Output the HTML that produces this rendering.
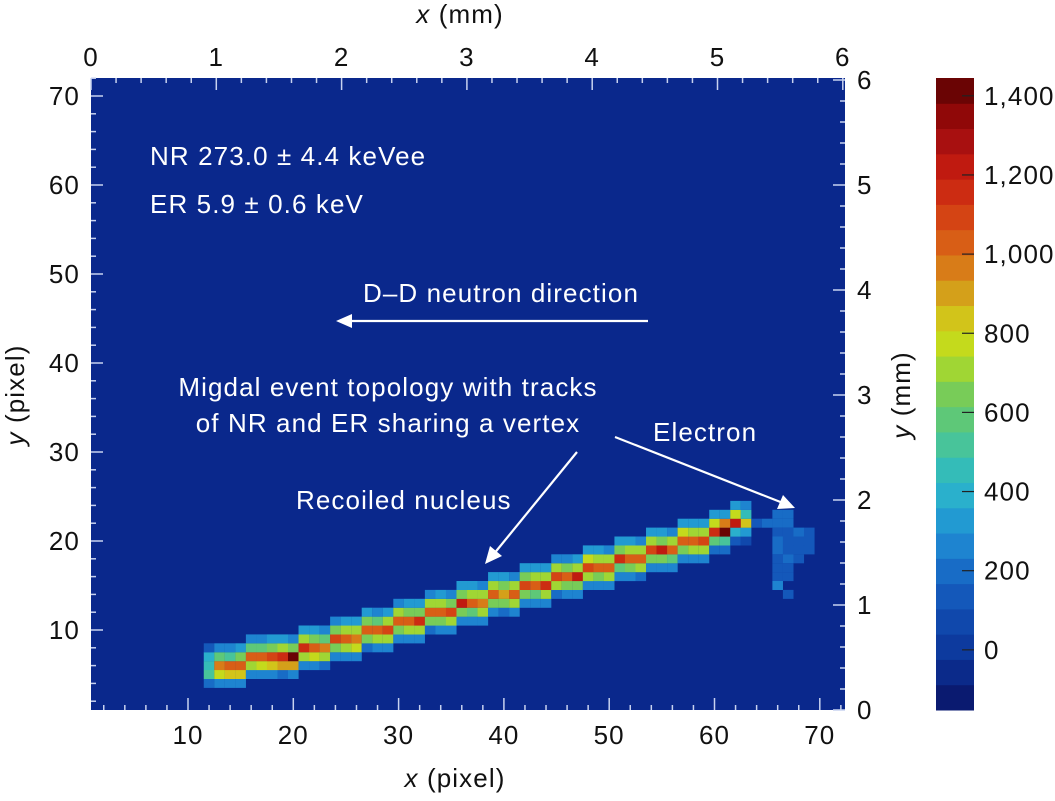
<!DOCTYPE html>
<html><head><meta charset="utf-8"><style>
body{margin:0;background:#fff;}
svg text{font-family:"Liberation Sans",sans-serif;letter-spacing:1.1px;}
</style></head><body>
<svg id="chart" width="1055" height="796" viewBox="0 0 1055 796" xmlns="http://www.w3.org/2000/svg">
<rect x="91" y="78" width="754" height="632" fill="#0a288c"/>
<g id="cells"></g>
<g id="ticks"></g>
<g id="cbar"></g>
<g fill="#fff" font-size="26">
<text x="150" y="165">NR 273.0 ± 4.4 keVee</text>
<text x="150" y="213">ER 5.9 ± 0.6 keV</text>
<text x="501" y="302" text-anchor="middle">D–D neutron direction</text>
<text x="388" y="396" text-anchor="middle">Migdal event topology with tracks</text>
<text x="388" y="432" text-anchor="middle">of NR and ER sharing a vertex</text>
<text x="653" y="441">Electron</text>
<text x="296" y="509">Recoiled nucleus</text>
</g>
<g stroke="#fff" stroke-width="2.2" fill="#fff">
<line x1="648" y1="321" x2="348" y2="321"/>
<polygon points="336,321 352,314 352,328" stroke="none"/>
<line x1="577" y1="452" x2="493" y2="555"/>
<polygon points="485,564 490,546 502,556" stroke="none"/>
<line x1="615" y1="437" x2="783" y2="503"/>
<polygon points="795,508 777,509 783,495" stroke="none"/>
</g>
<g font-size="26" fill="#111">
<text x="460" y="23" text-anchor="middle"><tspan font-style="italic">x</tspan> (mm)</text>
<text x="455" y="787" text-anchor="middle"><tspan font-style="italic">x</tspan> (pixel)</text>
<text transform="translate(24,395) rotate(-90)" text-anchor="middle"><tspan font-style="italic">y</tspan> (pixel)</text>
<text transform="translate(910,395) rotate(-90)" text-anchor="middle"><tspan font-style="italic">y</tspan> (mm)</text>
</g>
<g id="labels" font-size="26" fill="#111"></g>
</svg>
<script>
const NS="http://www.w3.org/2000/svg";
// track data: columns, centre row, values at row offsets -2,-1,0,+1,+2
const trackCols=[12,13,14,15,16,17,18,19,20,21,22,23,24,25,26,27,28,29,30,31,32,33,34,35,36,37,38,39,40,41,42,43,44,45,46,47,48,49,50,51,52,53,54,55,56,57,58,59,60,61,62,63];
const trackRows=[6,6,6,6,7,7,7,7,7,8,8,8,9,9,9,10,10,10,11,11,11,12,12,12,13,13,13,14,14,14,15,15,15,16,16,16,17,17,17,18,18,18,19,19,19,20,20,20,21,21,22,22];
const valDown2=[200,250,260,240,280,260,250,230,260,270,240,230,260,250,240,230,260,250,240,250,260,230,250,270,260,240,250,260,230,250,270,260,250,230,250,260,270,250,240,260,250,230,250,260,240,250,260,250,220,200,150,100];
const valDown=[500,760,860,820,720,780,860,920,880,700,780,720,660,700,780,640,700,740,660,720,680,620,660,740,640,600,700,660,620,680,640,600,700,740,620,660,720,640,680,600,640,720,660,620,580,640,720,680,560,520,420,300];
const valCenter=[480,950,1000,1050,1000,1050,1100,1150,1420,1150,1050,950,1100,1000,950,1050,1000,1100,1050,1000,1150,1050,1000,1100,1200,1050,950,1000,900,1050,1100,1000,1150,1100,1050,1200,1100,1050,1000,1150,1050,1000,1100,1200,1050,1000,1050,1100,1150,1450,1250,850];
const valUp=[400,560,520,620,560,600,640,680,620,720,660,600,640,680,720,640,600,680,720,640,660,720,680,620,660,740,680,720,640,680,660,720,740,680,640,720,760,680,720,640,680,740,720,660,700,760,720,680,800,950,780,480];
const valUp2=[150,260,280,300,280,290,320,300,280,300,320,290,280,300,320,300,290,310,280,300,320,290,300,280,300,320,280,300,310,290,300,320,300,280,290,310,320,300,280,300,320,290,300,310,280,300,320,300,320,340,320,260];
// electron blob cells: columns, rows, values
const eCols=[64,65,66,67,66,67,66,67,68,69,66,67,68,69,66,67,68,69,66,67,68,66,67,66,67,66,67];
const eRows=[22,22,23,23,22,22,21,21,21,21,20,20,20,20,19,19,19,19,18,18,18,17,17,16,16,15,14];
const eVals=[150,180,200,190,190,180,160,150,170,150,180,160,150,140,170,150,160,140,150,180,140,160,150,140,150,260,140];
// colorbar
const cbTicks=[0,200,400,600,800,1000,1200,1400];
const cbColors=["#0a1a70","#0b2a8a","#0d3a9e","#1048ac","#1458ba","#186cc6","#1e84d0","#229ad2","#2ab0cc","#34bcb8","#48c49a","#5ec878","#78cc58","#a0d634","#c4da1c","#d2c41a","#d4a01a","#d87c18","#d85e16","#d44414","#cc2c12","#c01a10","#a81010","#900808","#6a0404"];
const xPix=k=>82.7+10.53*k, yPix=j=>719-8.9*j;
const vMin=-152, vMax=1445;
function color(v){let i=Math.floor((v-vMin)/(vMax-vMin)*cbColors.length);i=Math.max(0,Math.min(cbColors.length-1,i));return cbColors[i];}
const cells=document.getElementById('cells');
function cell(k,j,v){const r=document.createElementNS(NS,'rect');
r.setAttribute('x',xPix(k)-5.3);r.setAttribute('y',yPix(j)-4.5);r.setAttribute('width',10.6);r.setAttribute('height',9);r.setAttribute('fill',color(v));


cells.appendChild(r);}
trackCols.forEach((c,i)=>{const j=trackRows[i];
cell(c,j-2,valDown2[i]);cell(c,j-1,valDown[i]);cell(c,j,valCenter[i]);cell(c,j+1,valUp[i]);cell(c,j+2,valUp2[i]);});
eCols.forEach((c,i)=>cell(c,eRows[i],eVals[i]));
// ticks
const tk=document.getElementById('ticks'),lb=document.getElementById('labels');
function line(x1,y1,x2,y2,name){const l=document.createElementNS(NS,'line');l.setAttribute('x1',x1);l.setAttribute('y1',y1);l.setAttribute('x2',x2);l.setAttribute('y2',y2);l.setAttribute('stroke','#c8d2f0');l.setAttribute('stroke-width','1.5');


tk.appendChild(l);}
function text(x,y,s,anchor,name){const t=document.createElementNS(NS,'text');t.setAttribute('x',x);t.setAttribute('y',y);t.setAttribute('text-anchor',anchor);t.textContent=s;


lb.appendChild(t);}
const pixTicks=[10,20,30,40,50,60,70];
for(let v=2;v<=72;v+=2){const major=v%10===0;const L=major?12:5;
 if(xPix(v)<845){line(xPix(v),710,xPix(v),710-L,'x-tick');}
 if(yPix(v)>78){line(91,yPix(v),91+L,yPix(v),'y-tick');}}
pixTicks.forEach(v=>{text(xPix(v),744,v,'middle','x-tick-label');text(80,yPix(v)+9,v,'end','y-tick-label');});
const mmTicks=[0,1,2,3,4,5,6];
const mmX=m=>91+125.3*m, mmY=m=>710-105*m;
for(let m=0;m<=6.01;m+=0.2){const major=Math.abs(m-Math.round(m))<0.01;const L=major?12:5;
 line(mmX(m),78,mmX(m),78+L,'top-x-tick');line(845,mmY(m),845-L,mmY(m),'right-y-tick');}
mmTicks.forEach(m=>{text(mmX(m),66,m,'middle','top-x-tick-label');text(857,mmY(m)+9,m,'start','right-y-tick-label');});
// colorbar
const cb=document.getElementById('cbar');const bh=632/cbColors.length;
cbColors.forEach((c,i)=>{const r=document.createElementNS(NS,'rect');r.setAttribute('x',936);r.setAttribute('y',710-(i+1)*bh);r.setAttribute('width',38);r.setAttribute('height',bh+0.5);r.setAttribute('fill',c);


cb.appendChild(r);});
const cbY=v=>710-(v-vMin)/(vMax-vMin)*632;
cbTicks.forEach(v=>{const l=document.createElementNS(NS,'line');l.setAttribute('x1',962);l.setAttribute('x2',974);l.setAttribute('y1',cbY(v));l.setAttribute('y2',cbY(v));l.setAttribute('stroke','#222');l.setAttribute('stroke-width','1.2');


cb.appendChild(l);
text(984,cbY(v)+9,v.toLocaleString('en-US'),'start','colorbar-tick-label');});
</script>
</body></html>
